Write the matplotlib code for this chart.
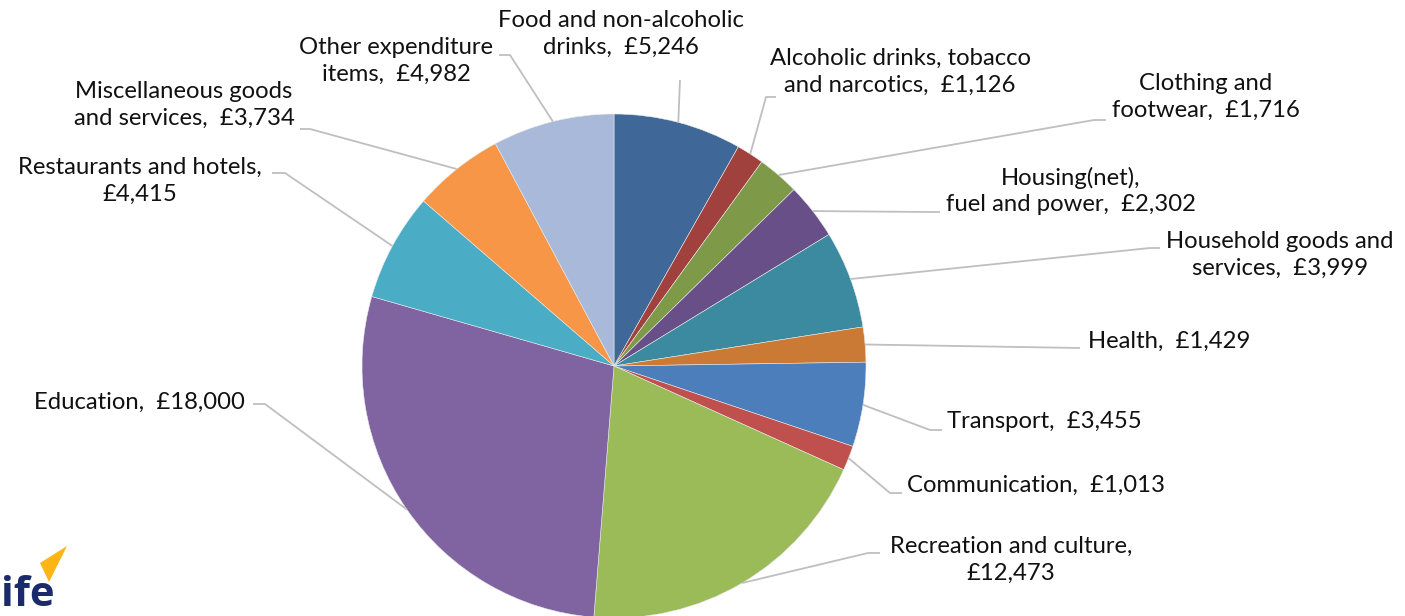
import matplotlib.pyplot as plt
import numpy as np
from matplotlib.patches import Polygon

plt.rcParams['font.family'] = ['Lato', 'DejaVu Sans']

categories = ['Food and non-alcoholic\ndrinks', 'Alcoholic drinks, tobacco\nand narcotics',
              'Clothing and\nfootwear', 'Housing(net),\nfuel and power', 'Household goods and\nservices',
              'Health', 'Transport', 'Communication', 'Recreation and culture,\n',
              'Education', 'Restaurants and hotels,\n', 'Miscellaneous goods\nand services',
              'Other expenditure\nitems']
values = [5246, 1126, 1716, 2302, 3999, 1429, 3455, 1013, 12473, 18000, 4415, 3734, 4982]
colors = ['#3F6797', '#A0413E', '#7E9A48', '#684F87', '#3B8AA0', '#CB7A35', '#4D7EBC',
          '#C0504D', '#9BBB59', '#8064A2', '#4BACC6', '#F79646', '#A9B9D9']

# label layout in pixel coords: text x, text y, ha, elbow point, end of leader
label_pos = [
    (621, 34, 'center', (680, 80), (680, 80)),
    (900, 72, 'center', (766, 97), (776, 97)),
    (1206, 97, 'center', (1094, 120), (1106, 120)),
    (1071, 191, 'center', (928, 212), (940, 212)),
    (1280, 255, 'center', (1150, 248), (1160, 248)),
    (1088, 341, 'left', (1080, 348), (1080, 348)),
    (947, 421, 'left', (930, 430), (942, 430)),
    (907, 485, 'left', (890, 493), (902, 493)),
    (1011, 560, 'center', (868, 553), (880, 553)),
    (245, 402, 'right', (265, 404), (253, 404)),
    (140, 181, 'center', (285, 173), (272, 173)),
    (184, 105, 'center', (310, 129), (300, 129)),
    (396, 61, 'center', (510, 55), (499, 55)),
]

W, H = 1405, 616
fig = plt.figure(figsize=(W / 100, H / 100), dpi=100)
cx, cy, R = 614, 366, 252
ax = fig.add_axes([(cx - R) / W, 1 - (cy + R) / H, 2 * R / W, 2 * R / H])
wedges, _ = ax.pie(values, colors=colors, startangle=90, counterclock=False,
                   wedgeprops=dict(edgecolor='#E8E8E8', linewidth=0.4))
ax.set_xlim(-1, 1)
ax.set_ylim(-1, 1)
ax.set_aspect('equal')
for w in wedges:
    w.set_clip_on(False)

ov = fig.add_axes([0, 0, 1, 1], zorder=5)
ov.set_xlim(0, W)
ov.set_ylim(H, 0)
ov.axis('off')
ov.patch.set_alpha(0)

to_ov = ov.transData.inverted()
for cat, val, w, (tx, ty, ha, elbow, end) in zip(categories, values, wedges, label_pos):
    mid = np.deg2rad((w.theta1 + w.theta2) / 2)
    rim = to_ov.transform(ax.transData.transform((np.cos(mid), np.sin(mid))))
    ov.plot([rim[0], elbow[0], end[0]], [rim[1], elbow[1], end[1]],
            color='#BFBFBF', lw=1.3, solid_capstyle='butt')
    if cat.endswith('\n'):
        txt = f'{cat}£{val:,}'
    else:
        txt = f'{cat},  £{val:,}'
    ov.text(tx, ty, txt, ha=ha, va='center', multialignment='center',
            fontsize=17.2, color='#111111', linespacing=1.33)

# logo fragment bottom-left
ov.add_patch(Polygon([(40, 563), (67, 546), (49, 582)], closed=True,
                     facecolor='#FDB515', edgecolor='none'))
ov.text(1, 616, 'ife', fontsize=30, fontweight='bold', color='#1B2A6B',
        family=['Open Sans', 'DejaVu Sans'], ha='left', va='bottom')

fig.savefig('out.png', dpi=100)
